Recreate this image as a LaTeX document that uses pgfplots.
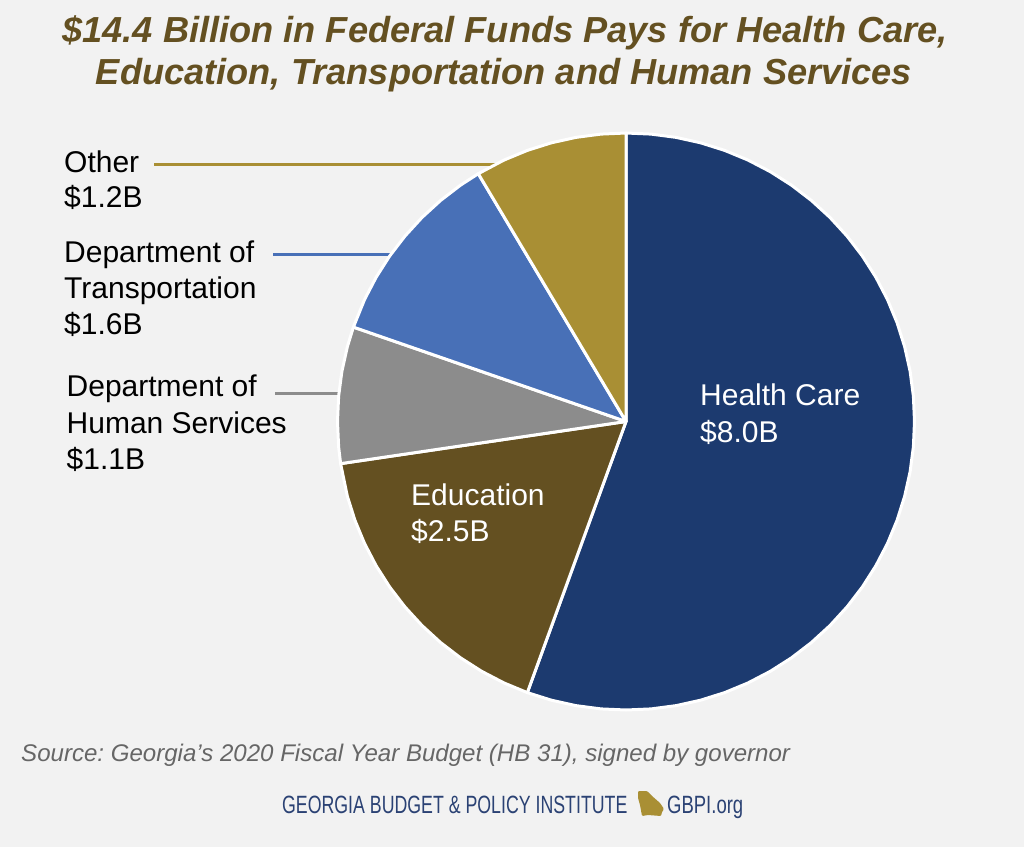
\documentclass[border=0pt]{standalone}
\usepackage{fontspec}
\setmainfont{Liberation Sans}
\usepackage{pgfplots}
\pgfplotsset{compat=1.18}
\usepgfplotslibrary{polar}

\definecolor{bgcol}{HTML}{F2F2F2}
\definecolor{navy}{HTML}{1C3A6F}
\definecolor{brown}{HTML}{645021}
\definecolor{midgray}{HTML}{8C8C8C}
\definecolor{midblue}{HTML}{4870B7}
\definecolor{gold}{HTML}{A98F34}
\definecolor{logoblue}{HTML}{2B4274}

% x and y are pixels of the reference, y from the top
\newcommand{\lab}[4][black]{\node[anchor=base west,inner sep=0pt,text=#1] at (#2pt,{847pt-#3pt}) {#4};}

\begin{document}
\frenchspacing
\begin{tikzpicture}
  \path[use as bounding box,fill=bgcol] (0pt,0pt) rectangle (1024pt,847pt);

  % title
  \node[anchor=base,inner sep=0pt,text=brown,font=\fontsize{36.2}{40}\selectfont\bfseries\itshape] at (505pt,{847pt-43pt}) {\$14.4 Billion in Federal Funds Pays for Health Care,};
  \node[anchor=base,inner sep=0pt,text=brown,font=\fontsize{36.2}{40}\selectfont\bfseries\itshape] at (504pt,{847pt-85pt}) {Education, Transportation and Human Services};

  % leader lines
  \draw[gold,line width=3pt] (154pt,{847pt-164.5pt}) -- (505pt,{847pt-164.5pt});
  \draw[midblue,line width=3pt] (273pt,{847pt-254.5pt}) -- (395pt,{847pt-254.5pt});
  \draw[midgray,line width=3pt] (275pt,{847pt-393pt}) -- (345pt,{847pt-393pt});

  \begin{polaraxis}[
    at={(626pt,425.5pt)},
    anchor=center,
    scale only axis,
    width=577pt,
    height=577pt,
    xmin=0,
    xmax=360,
    ymin=0,
    ymax=1,
    hide axis,
    clip=false,
  ]
    % Health Care 8.0
    \addplot[fill=navy,draw=white,line width=3pt,line join=round] coordinates {
      (0,0) (90,1) (85,1) (80,1) (75,1) (70,1) (65,1) (60,1) (55,1) (50,1)
      (45,1) (40,1) (35,1) (30,1) (25,1) (20,1) (15,1) (10,1) (5,1) (0,1)
      (-5,1) (-10,1) (-15,1) (-20,1) (-25,1) (-30,1) (-35,1) (-40,1) (-45,1) (-50,1)
      (-55,1) (-60,1) (-65,1) (-70,1) (-75,1) (-80,1) (-85,1) (-90,1) (-95,1) (-100,1)
      (-105,1) (-110,1)
    } -- cycle;
    % Education 2.5
    \addplot[fill=brown,draw=white,line width=3pt,line join=round] coordinates {
      (0,0) (-110,1) (-115,1) (-120,1) (-125,1) (-130,1) (-135,1) (-140,1) (-145,1)
      (-150,1) (-155,1) (-160,1) (-165,1) (-171.6,1)
    } -- cycle;
    % Department of Human Services 1.1
    \addplot[fill=midgray,draw=white,line width=3pt,line join=round] coordinates {
      (0,0) (-171.6,1) (-175,1) (-180,1) (-185,1) (-190,1) (-195,1) (-199.1,1)
    } -- cycle;
    % Department of Transportation 1.6
    \addplot[fill=midblue,draw=white,line width=3pt,line join=round] coordinates {
      (0,0) (-199.1,1) (-205,1) (-210,1) (-215,1) (-220,1) (-225,1) (-230,1) (-235,1) (-239.2,1)
    } -- cycle;
    % Other 1.2
    \addplot[fill=gold,draw=white,line width=3pt,line join=round] coordinates {
      (0,0) (-239.2,1) (-245,1) (-250,1) (-255,1) (-260,1) (-265,1) (-270,1)
    } -- cycle;
  \end{polaraxis}

  % labels
  \begingroup
  \fontsize{30}{36}\selectfont
  \lab{64}{173}{Other}
  \lab{64}{208}{\$1.2B}
  \lab{64}{263}{Department of}
  \lab{64}{299}{Transportation}
  \lab{64}{335}{\$1.6B}
  \lab{66.5}{397}{Department of}
  \lab{66.5}{433}{Human Services}
  \lab{66.5}{469}{\$1.1B}
  \lab[white]{700}{405}{Health Care}
  \lab[white]{700}{442}{\$8.0B}
  \lab[white]{411}{505.5}{Education}
  \lab[white]{411}{541.5}{\$2.5B}
  \endgroup

  % source
  \node[anchor=base west,inner sep=0pt,text=black!60,font=\fontsize{24.07}{28}\selectfont\itshape] at (21pt,{847pt-761pt}) {Source: Georgia’s 2020 Fiscal Year Budget (HB 31), signed by governor};

  % footer
  \node[anchor=base west,inner sep=0pt,text=logoblue,xscale=0.71,font=\fontsize{25}{30}\selectfont] at (282pt,{847pt-813pt}) {GEORGIA BUDGET \& POLICY INSTITUTE};
  \node[anchor=base west,inner sep=0pt,text=logoblue,xscale=0.74,font=\fontsize{25}{30}\selectfont] at (667pt,{847pt-813pt}) {GBPI.org};
  \fill[gold,rounded corners=1pt] (638pt,{847pt-791pt}) -- (647pt,{847pt-791pt}) -- (652pt,{847pt-796pt}) -- (660pt,{847pt-803pt}) -- (664pt,{847pt-809pt}) -- (662pt,{847pt-812pt}) -- (661pt,{847pt-816pt}) -- (648pt,{847pt-815pt}) -- (642pt,{847pt-816pt}) -- (640pt,{847pt-805pt}) -- (638pt,{847pt-798pt}) -- cycle;
\end{tikzpicture}
\end{document}
